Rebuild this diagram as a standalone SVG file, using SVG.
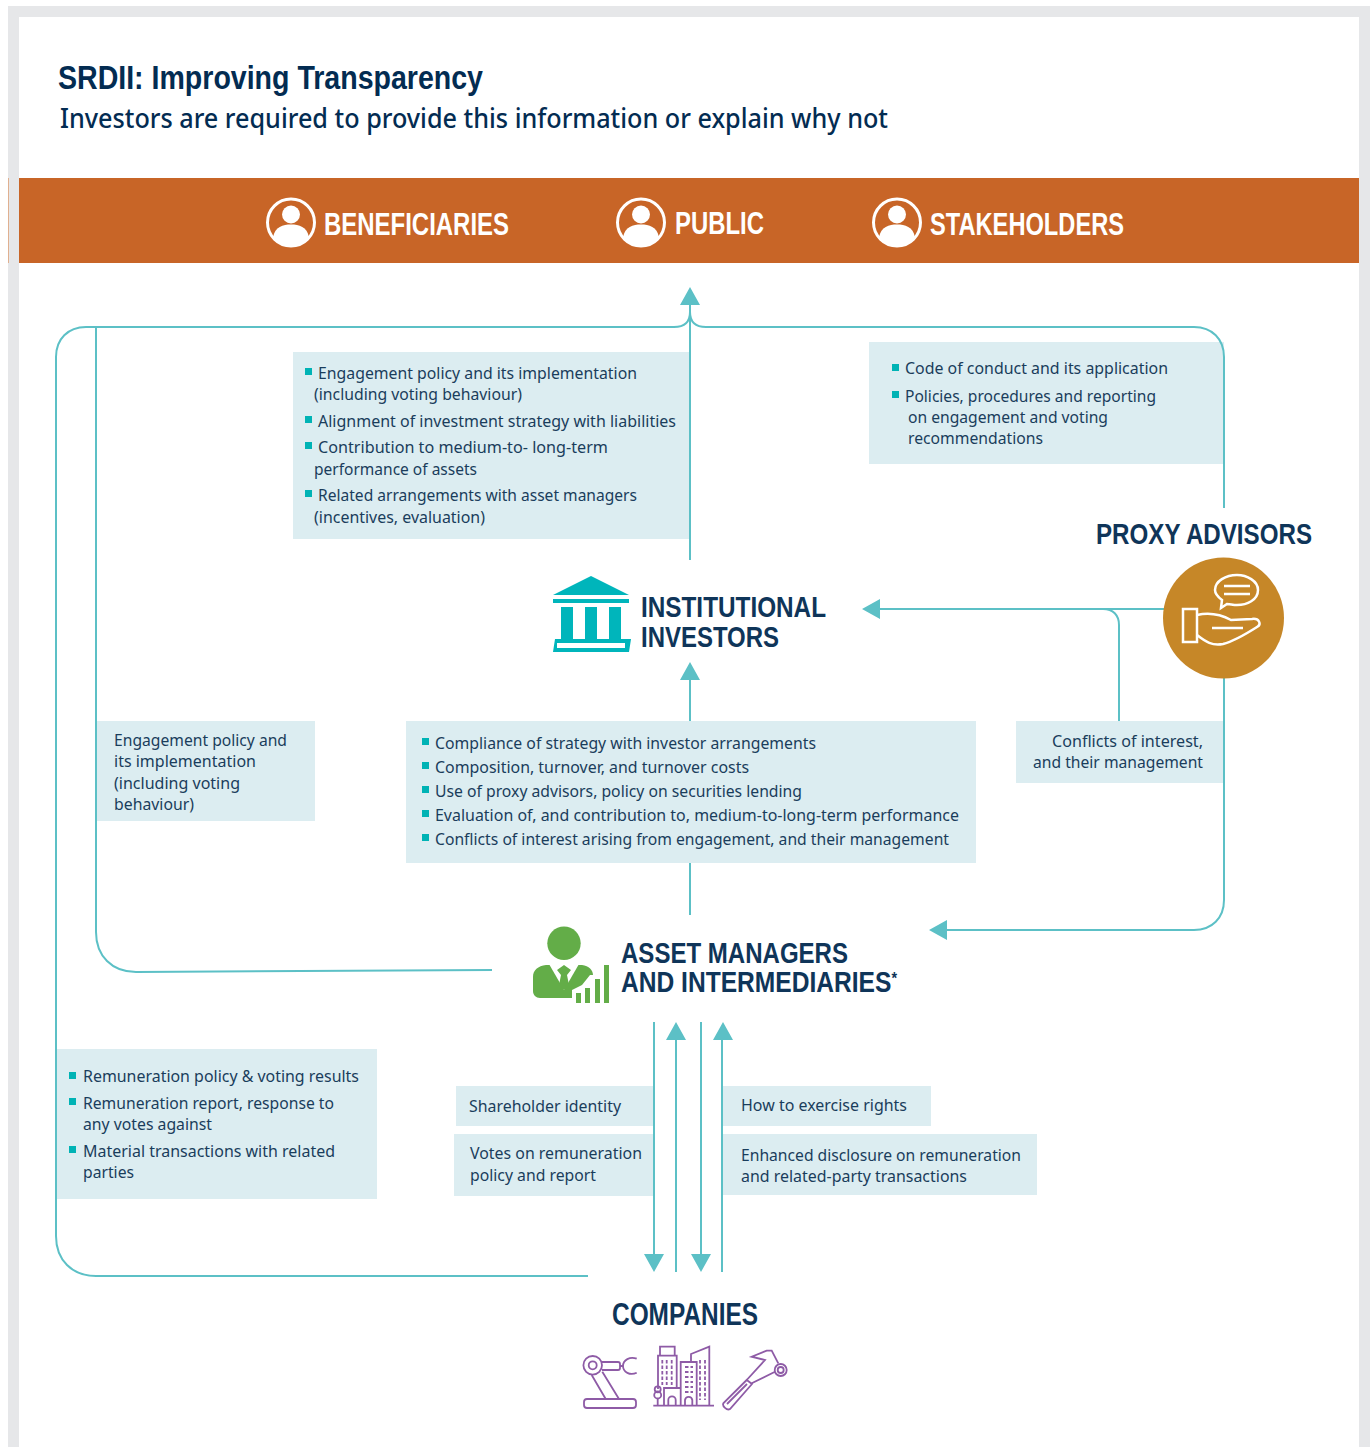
<svg xmlns="http://www.w3.org/2000/svg" xmlns:xlink="http://www.w3.org/1999/xlink" width="1372" height="1447" viewBox="0 0 1372 1447">
<style>
text{font-family:"Noto Sans","Open Sans","Liberation Sans",sans-serif}
.b{font-size:17px;fill:#1a3d5c}
.h{font-family:"Liberation Sans",Arial,sans-serif;font-weight:700;font-size:30px;fill:#0f3559}
.h1{font-family:"Liberation Sans",Arial,sans-serif;font-weight:700;font-size:32px;fill:#0f3559}
.h2{font-family:"Liberation Sans",Arial,sans-serif;font-weight:700;font-size:29px;fill:#0f3559}
.w{font-family:"Liberation Sans",Arial,sans-serif;font-weight:700;font-size:32px;fill:#fff}
.box{fill:#dcedf1}
.bu{fill:#00b3b5}
.c{fill:none;stroke:#5cc0c6;stroke-width:2}
.a{fill:#5cc0c6}
.p{fill:none;stroke:#8e5ba6;stroke-width:1.800}
.ws{fill:none;stroke:#fff;stroke-width:2.500}
</style>
<defs>
<g id="person"><circle cx="0" cy="0" r="23.500" fill="none" stroke="#fff" stroke-width="3"/><circle cx="0" cy="-8" r="9" fill="#fff"/><path d="M-18 15C-16 4-8 2 0 2S16 4 18 15A23 23 0 0 1-18 15Z" fill="#fff"/></g>
</defs>
<g id="frame"><path d="M8 1447V6H1370V1447H1359V17H19V1447Z" fill="#e6e7e9"/></g>
<g id="title">
<text x="58" y="89" style="font-family:'Liberation Sans',Arial,sans-serif;font-weight:700;font-size:33px;fill:#032c52" textLength="425" lengthAdjust="spacingAndGlyphs">SRDII: Improving Transparency</text>
<text x="60" y="128" style="font-size:27px;font-weight:500;fill:#032c52" textLength="828" lengthAdjust="spacingAndGlyphs">Investors are required to provide this information or explain why not</text>
</g>
<g id="banner">
<rect x="8" y="178" width="1" height="85" fill="#e0b090"/><rect x="19" y="178" width="1340" height="85" fill="#c86527"/>
<use xlink:href="#person" href="#person" x="291" y="222.500"/>
<use xlink:href="#person" href="#person" x="641" y="222.500"/>
<use xlink:href="#person" href="#person" x="897" y="222.500"/>
<text class="w" x="324" y="235" textLength="185" lengthAdjust="spacingAndGlyphs">BENEFICIARIES</text>
<text class="w" x="675" y="234" textLength="89" lengthAdjust="spacingAndGlyphs">PUBLIC</text>
<text class="w" x="930" y="235" textLength="194" lengthAdjust="spacingAndGlyphs">STAKEHOLDERS</text>
</g>
<g id="boxes">
<rect class="box" x="293" y="352" width="397" height="187"/>
<rect class="box" x="869" y="342" width="355" height="122"/>
<rect class="box" x="97" y="721" width="218" height="100"/>
<rect class="box" x="406" y="721" width="570" height="142"/>
<rect class="box" x="1016" y="721" width="208" height="62"/>
<rect class="box" x="57" y="1049" width="320" height="150"/>
<rect class="box" x="456" y="1086" width="198" height="40"/>
<rect class="box" x="454" y="1134" width="200" height="62"/>
<rect class="box" x="723" y="1086" width="208" height="40"/>
<rect class="box" x="723" y="1134" width="314" height="61"/>
</g>
<g id="connectors">
<path class="c" d="M690 560V300"/>
<path class="c" d="M690 312C690 322 684 327 674 327H86C68 327 56 339 56 357V1236C56 1260 72 1276 96 1276H588"/>
<path class="c" d="M690 312C690 322 696 327 706 327H1194C1212 327 1224 339 1224 357V508"/>
<path class="c" d="M96 327V932C96 956 112 972 136 972L492 970"/>
<path class="c" d="M690 915V863M690 721V675"/>
<path class="c" d="M1224 678V900C1224 918 1212 930 1194 930H945"/>
<path class="c" d="M1165 609H876"/>
<path class="c" d="M1119 721V625C1119 615 1113 609 1103 609"/>
<path class="c" d="M654 1022V1258M676 1272V1038M701 1022V1258M722 1272V1038"/>
<path class="a" d="M690 287L700 305H680ZM862 609L880 599V619ZM690 662L700 680H680ZM929 930L947 920V940ZM654 1272L644 1254H664ZM676 1022L686 1040H666ZM701 1272L691 1254H711ZM723 1022L733 1040H713Z"/>
</g>
<g id="text-institutional-list">
<rect class="bu" x="305" y="368" width="7" height="7"/><rect class="bu" x="305" y="416" width="7" height="7"/><rect class="bu" x="305" y="442" width="7" height="7"/><rect class="bu" x="305" y="490" width="7" height="7"/>
<text class="b" x="318" y="379" textLength="319" lengthAdjust="spacingAndGlyphs">Engagement policy and its implementation</text>
<text class="b" x="314" y="400" textLength="208" lengthAdjust="spacingAndGlyphs">(including voting behaviour)</text>
<text class="b" x="318" y="427" textLength="358" lengthAdjust="spacingAndGlyphs">Alignment of investment strategy with liabilities</text>
<text class="b" x="318" y="453" textLength="290" lengthAdjust="spacingAndGlyphs">Contribution to medium-to- long-term</text>
<text class="b" x="314" y="475" textLength="163" lengthAdjust="spacingAndGlyphs">performance of assets</text>
<text class="b" x="318" y="501" textLength="319" lengthAdjust="spacingAndGlyphs">Related arrangements with asset managers</text>
<text class="b" x="314" y="523" textLength="171" lengthAdjust="spacingAndGlyphs">(incentives, evaluation)</text>
</g>
<g id="text-proxy-list">
<rect class="bu" x="892" y="364" width="7" height="7"/><rect class="bu" x="892" y="391" width="7" height="7"/>
<text class="b" x="905" y="374" textLength="263" lengthAdjust="spacingAndGlyphs">Code of conduct and its application</text>
<text class="b" x="905" y="402" textLength="251" lengthAdjust="spacingAndGlyphs">Policies, procedures and reporting</text>
<text class="b" x="908" y="423" textLength="200" lengthAdjust="spacingAndGlyphs">on engagement and voting</text>
<text class="b" x="908" y="444" textLength="135" lengthAdjust="spacingAndGlyphs">recommendations</text>
</g>
<g id="text-engagement">
<text class="b" x="114" y="746" textLength="173" lengthAdjust="spacingAndGlyphs">Engagement policy and</text>
<text class="b" x="114" y="767" textLength="142" lengthAdjust="spacingAndGlyphs">its implementation</text>
<text class="b" x="114" y="789" textLength="126" lengthAdjust="spacingAndGlyphs">(including voting</text>
<text class="b" x="114" y="810" textLength="80" lengthAdjust="spacingAndGlyphs">behaviour)</text>
</g>
<g id="text-manager-list">
<rect class="bu" x="422" y="738" width="7" height="7"/><rect class="bu" x="422" y="762" width="7" height="7"/><rect class="bu" x="422" y="786" width="7" height="7"/><rect class="bu" x="422" y="810" width="7" height="7"/><rect class="bu" x="422" y="834" width="7" height="7"/>
<text class="b" x="435" y="749" textLength="381" lengthAdjust="spacingAndGlyphs">Compliance of strategy with investor arrangements</text>
<text class="b" x="435" y="773" textLength="314" lengthAdjust="spacingAndGlyphs">Composition, turnover, and turnover costs</text>
<text class="b" x="435" y="797" textLength="367" lengthAdjust="spacingAndGlyphs">Use of proxy advisors, policy on securities lending</text>
<text class="b" x="435" y="821" textLength="524" lengthAdjust="spacingAndGlyphs">Evaluation of, and contribution to, medium-to-long-term performance</text>
<text class="b" x="435" y="845" textLength="514" lengthAdjust="spacingAndGlyphs">Conflicts of interest arising from engagement, and their management</text>
</g>
<g id="text-conflicts">
<text class="b" x="1052" y="747" textLength="151" lengthAdjust="spacingAndGlyphs">Conflicts of interest,</text>
<text class="b" x="1033" y="768" textLength="170" lengthAdjust="spacingAndGlyphs">and their management</text>
</g>
<g id="text-remuneration">
<rect class="bu" x="69" y="1072" width="7" height="7"/><rect class="bu" x="69" y="1098" width="7" height="7"/><rect class="bu" x="69" y="1146" width="7" height="7"/>
<text class="b" x="83" y="1082" textLength="276" lengthAdjust="spacingAndGlyphs">Remuneration policy &amp; voting results</text>
<text class="b" x="83" y="1109" textLength="251" lengthAdjust="spacingAndGlyphs">Remuneration report, response to</text>
<text class="b" x="83" y="1130" textLength="129" lengthAdjust="spacingAndGlyphs">any votes against</text>
<text class="b" x="83" y="1157" textLength="252" lengthAdjust="spacingAndGlyphs">Material transactions with related</text>
<text class="b" x="83" y="1178" textLength="51" lengthAdjust="spacingAndGlyphs">parties</text>
</g>
<g id="text-flows">
<text class="b" x="469" y="1112" textLength="152" lengthAdjust="spacingAndGlyphs">Shareholder identity</text>
<text class="b" x="470" y="1159" textLength="172" lengthAdjust="spacingAndGlyphs">Votes on remuneration</text>
<text class="b" x="470" y="1181" textLength="126" lengthAdjust="spacingAndGlyphs">policy and report</text>
<text class="b" x="741" y="1111" textLength="166" lengthAdjust="spacingAndGlyphs">How to exercise rights</text>
<text class="b" x="741" y="1161" textLength="280" lengthAdjust="spacingAndGlyphs">Enhanced disclosure on remuneration</text>
<text class="b" x="741" y="1182" textLength="226" lengthAdjust="spacingAndGlyphs">and related-party transactions</text>
</g>
<g id="institutional-investors">
<path d="M553 595L591 576L629 595Z" fill="#00b5bb"/>
<rect x="553" y="599" width="76" height="4" fill="#00b5bb"/>
<path d="M561 607h12v32h-12ZM585 607h12v32h-12ZM609 607h12v32h-12Z" fill="#00b5bb"/>
<path d="M555 639H631L629 652H553Z" fill="#00b5bb"/><rect x="557" y="643" width="68" height="5" fill="#fff"/>
<text class="h" x="641" y="616.500" textLength="185" lengthAdjust="spacingAndGlyphs">INSTITUTIONAL</text>
<text class="h" x="641" y="646.500" textLength="138" lengthAdjust="spacingAndGlyphs">INVESTORS</text>
</g>
<g id="proxy-advisors">
<text class="h" x="1096" y="544" textLength="216" lengthAdjust="spacingAndGlyphs">PROXY ADVISORS</text>
<circle cx="1223.500" cy="618" r="60.500" fill="#c68728"/>
<path class="ws" d="M1237 575C1247 575 1258 581 1258 590C1258 600 1247 605 1237 605C1233 605 1230 604 1227 604L1221 608L1222 600C1218 597 1215 594 1215 590C1215 581 1226 575 1237 575Z"/>
<path class="ws" d="M1224 586H1250M1224 594H1250"/>
<rect class="ws" x="1183" y="609" width="14" height="33"/>
<path class="ws" d="M1197 615C1210 612 1220 614 1231 620L1252 619C1259 618 1262 624 1257 627C1246 634 1235 641 1223 644C1212 646 1206 642 1197 635M1212 628H1243"/>
</g>
<g id="asset-managers">
<circle cx="564" cy="943.300" r="16.700" fill="#63ad48"/>
<path d="M546 965H582C589 966 593 970 593 975L590 975L582 985L572 990V998H540C536 998 533 995 533 991V977C533 970 538 966 546 965Z" fill="#63ad48"/>
<path d="M549 964H579L564 990Z" fill="#fff"/>
<path d="M557 970L564 965L571 970L567 975L569 985L564 990L559 985L561 975Z" fill="#63ad48"/>
<path d="M576 993h5v10h-5ZM585 988h5v15h-5ZM595 979h5v24h-5ZM604 965h5v38h-5Z" fill="#63ad48"/>
<text class="h2" x="621" y="962.500" textLength="227" lengthAdjust="spacingAndGlyphs">ASSET MANAGERS</text>
<text class="h2" x="621" y="992" textLength="276" lengthAdjust="spacingAndGlyphs">AND INTERMEDIARIES<tspan dy="-8" style="font-size:17px">*</tspan></text>
</g>
<g id="companies">
<text class="h1" x="612" y="1325" textLength="146" lengthAdjust="spacingAndGlyphs">COMPANIES</text>
<circle class="p" cx="592.700" cy="1365.300" r="9.300"/><circle class="p" cx="592.700" cy="1365.300" r="4"/>
<path class="p" d="M602 1362H618Q620 1362 620 1364V1368Q620 1370 618 1370H602M620 1366H623M636.700 1358.700C630 1356 623 1360 623 1366S630 1376 636.700 1372.700"/>
<path class="p" d="M591.700 1375L605.700 1399M602.300 1371.700L619 1399"/>
<rect class="p" x="584" y="1399" width="52" height="9" rx="3"/>
<path class="p" d="M653.300 1405.700H714M658 1389V1355.700H676.700V1388M660 1355.700V1346.700H674.700V1355.700M664 1405.700V1388H680.700M680.700 1405.700V1362H696.700V1405.700M691 1362V1354L709.300 1346.700V1405.700M657.700 1398.500V1405.700"/>
<circle class="p" cx="657.700" cy="1389.300" r="3"/><circle class="p" cx="657.700" cy="1395" r="3.500"/>
<path d="M662.300 1360V1385M666.700 1360V1385M671.700 1360V1385M685 1367H693M685 1372H693M685 1377H693M685 1382H693M685 1387H693M685 1392H693M700 1360V1400M705 1360V1400" fill="none" stroke="#8e5ba6" stroke-width="1.800" stroke-dasharray="3.500 2"/>
<path class="p" d="M668.300 1405.700V1400A3.700 3.700 0 0 1 675.700 1400V1405.700M685 1405.700V1400A3.700 3.700 0 0 1 692.300 1400V1405.700"/>
<path class="p" d="M746.700 1380L765 1360L751.700 1356.700L766.700 1350.700H771.700L778.300 1363.300M775 1371.700L751.700 1383.300M746.700 1380L723.300 1403.300C722 1406 727 1411 730 1409L752 1384L746.700 1380Z"/>
<path class="p" d="M727 1404L747 1384"/>
<circle class="p" cx="780.700" cy="1370" r="6"/><circle class="p" cx="780.700" cy="1370" r="3"/>
</g>
</svg>
